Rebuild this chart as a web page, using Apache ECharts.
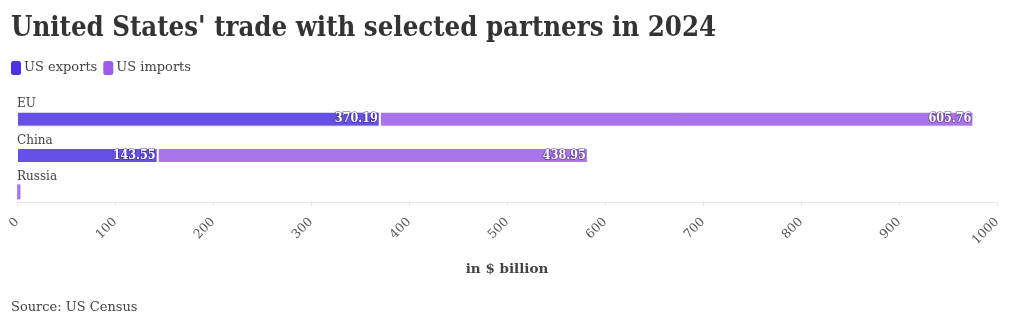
<!DOCTYPE html>
<html><head><meta charset="utf-8">
<script src="https://cdn.jsdelivr.net/npm/echarts@6/dist/echarts.min.js"></script>
<style>html,body{margin:0;padding:0;background:#fff}#c{width:1020px;height:328px}</style>
</head><body><div id="c"></div>
<script>
const categories = ['EU', 'China', 'Russia'];
const usExports = [370.19, 143.55, 0.53];
const usImports = [605.76, 438.95, 3.0];
const showLabel = [true, true, false];

const FONT = '"DejaVu Serif Condensed", "DejaVu Serif", serif';
const FONT2 = '"DejaVu Serif", serif';
const chart = echarts.init(document.getElementById('c'), null, {renderer: 'canvas'});
function lab() {
  return {
    show: true, position: 'insideRight', color: '#fff', fontFamily: FONT, fontSize: 12.5, fontWeight: 'bold',
    textBorderColor: 'rgba(40,20,90,0.55)', textBorderWidth: 1.5, distance: 2,
    formatter: p => showLabel[p.dataIndex] ? p.value.toFixed(2) : ''
  };
}
function items(vals, color) {
  return vals.map((v, i) => ({
    value: v,
    itemStyle: {color: color, borderColor: '#fff', borderWidth: showLabel[i] ? 1 : 0}
  }));
}
chart.setOption({
  animation: false,
  textStyle: {fontFamily: FONT2},
  title: {
    text: "United States' trade with selected partners in 2024",
    left: 6, top: 10,
    textStyle: {fontFamily: FONT, fontWeight: 'bold', fontSize: 27.3, color: '#333'}
  },
  legend: {
    left: 6, top: 56, itemWidth: 10, itemHeight: 14, itemGap: 6,
    icon: 'roundRect',
    textStyle: {fontFamily: FONT2, fontSize: 13, color: '#444', padding: [0, 0, 0, -2]},
    data: [
      {name: 'US exports', itemStyle: {color: '#4f33e2'}},
      {name: 'US imports', itemStyle: {color: '#9c5ee8'}}
    ]
  },
  grid: {left: 17, right: 23, top: 101, bottom: 118, containLabel: false},
  xAxis: {
    type: 'value', min: 0, max: 1000, interval: 100, offset: -8,
    name: 'in $ billion', nameLocation: 'middle', nameGap: 60,
    nameTextStyle: {fontFamily: FONT2, fontWeight: 'bold', fontSize: 13.5, color: '#444'},
    axisLine: {show: true, lineStyle: {color: '#e6e6e6'}},
    axisTick: {show: true, length: 4, lineStyle: {color: '#e6e6e6'}},
    splitLine: {show: false},
    axisLabel: {rotate: 45, color: '#555', fontSize: 12.5, fontFamily: FONT2, margin: 18,
      padding: [0, 0, 0, 4], formatter: v => String(v)}
  },
  yAxis: {
    type: 'category', data: categories, inverse: true,
    axisLine: {show: false}, axisTick: {show: false},
    axisLabel: {
      inside: true, margin: 0, color: '#444', fontSize: 12, fontFamily: FONT2,
      verticalAlign: 'bottom', padding: [0, 0, 9, 0]
    }
  },
  series: [
    {name: 'US exports', type: 'bar', stack: 't', data: items(usExports, '#6650e6'), barWidth: 15,
     itemStyle: {color: '#6650e6'}, label: lab()},
    {name: 'US imports', type: 'bar', stack: 't', data: items(usImports, '#a874e8'), barWidth: 15,
     itemStyle: {color: '#a874e8'}, label: lab()}
  ],
  graphic: [{
    type: 'text', left: 11, top: 301,
    style: {text: 'Source: US Census', font: '13px "DejaVu Serif"', fill: '#444'}
  }]
});
</script></body></html>
